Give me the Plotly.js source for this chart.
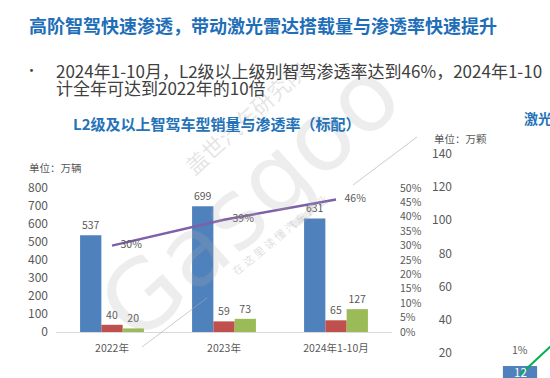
<!DOCTYPE html>
<html><head><meta charset="utf-8">
<script src="https://cdn.plot.ly/plotly-3.0.1.min.js"></script>
<style>html,body{margin:0;padding:0;overflow:hidden;background:#fff}#chart{width:550px;height:400px}</style>
</head><body><div id="chart"></div>
<script>
// ---- data (left chart) ----
const categories = ['2022年', '2023年', '2024年1-10月'];
const l2Sales = [537, 699, 631];
const seriesRed = [40, 59, 65];
const seriesGreen = [20, 73, 127];
const l2Rate = [0.30, 0.39, 0.46];
// ---- data (right chart, only the first category is inside the picture) ----
const lidarCategories = ['2022年', '2023年', '2024年1-10月'];
const lidarVolume = [12, 57, 110];
const lidarRate = [0.01, 0.03, 0.06];
// ---- texts ----
const mainTitle = '高阶智驾快速渗透，带动激光雷达搭载量与渗透率快速提升';
const bulletLine1 = '2024年1-10月，L2级以上级别智驾渗透率达到46%，2024年1-10';
const bulletLine2 = '计全年可达到2022年的10倍';
const leftTitle = 'L2级及以上智驾车型销量与渗透率（标配）';
const leftUnit = '单位：万辆';
const rightTitle = '激光';
const rightUnit = '单位：万颗';

const F = "'Noto Sans CJK SC', 'Noto Sans', sans-serif";
const W = 550, H = 400;
const px = v => v / W;
const py = v => 1 - v / H;
const pct = v => Math.round(v * 100) + '%';
const labelFont = {family: F, size: 10.5, color: '#595959'};
const x3Range = [-1, 0.5];

const traces = [
  {type: 'bar', x: categories, y: l2Sales, xaxis: 'x', yaxis: 'y', marker: {color: '#4F81BD'},
   text: l2Sales.map(String), textposition: 'outside', textfont: labelFont, cliponaxis: false, hoverinfo: 'none'},
  {type: 'bar', x: categories, y: seriesRed, xaxis: 'x', yaxis: 'y', marker: {color: '#C0504D'},
   text: seriesRed.map(String), textposition: 'outside', textfont: labelFont, cliponaxis: false, hoverinfo: 'none'},
  {type: 'bar', x: categories, y: seriesGreen, xaxis: 'x', yaxis: 'y', marker: {color: '#9BBB59'},
   text: seriesGreen.map(String), textposition: 'outside', textfont: labelFont, cliponaxis: false, hoverinfo: 'none'},
  {type: 'scatter', mode: 'lines+markers+text', x: categories, y: l2Rate, xaxis: 'x', yaxis: 'y2',
   line: {color: '#7D60A8', width: 2.5}, marker: {size: 12, opacity: 0, color: '#7D60A8'},
   text: l2Rate.map(pct), textposition: 'middle right', textfont: labelFont, cliponaxis: false, hoverinfo: 'none'},
  {type: 'bar', x: lidarCategories, y: lidarVolume, xaxis: 'x3', yaxis: 'y3', marker: {color: '#4F81BD'},
   hoverinfo: 'none'},
  {type: 'scatter', mode: 'lines', x: lidarCategories, y: lidarRate, xaxis: 'x3', yaxis: 'y4',
   line: {color: '#00B050', width: 2}, hoverinfo: 'none'}
];

const ann = (x, y, text, opts) => Object.assign({xref: 'paper', yref: 'paper', x: x, y: y, text: text,
  showarrow: false, xanchor: 'left', yanchor: 'middle'}, opts);

const annotations = [
  // watermark (drawn first, under the other texts)
  ann(px(250), py(200), 'Gasgoo', {xanchor: 'center', textangle: -42, font: {family: 'DejaVu Sans', size: 96, color: 'rgba(175,175,175,0.22)'}}),
  ann(px(245), py(117), '盖世汽车研究院', {xanchor: 'center', textangle: -42, font: {family: F, size: 22, color: 'rgba(160,160,160,0.28)'}}),
  ann(px(280), py(234), '在 这 里 读 懂 汽 车 产 业', {xanchor: 'center', textangle: -39, font: {family: F, size: 11, color: 'rgba(160,160,160,0.35)'}}),
  ann(px(27), py(25), '<b>' + mainTitle + '</b>', {font: {family: F, size: 18, color: '#1E6EB8'}}),
  ann(px(31), py(69), '•', {xanchor: 'center', font: {family: F, size: 13, color: '#404040'}}),
  ann(px(54), py(70), bulletLine1, {font: {family: F, size: 17, color: '#404040'}}),
  ann(px(54), py(88), bulletLine2, {font: {family: F, size: 17, color: '#404040'}}),
  ann(px(217), py(123), '<b>' + leftTitle + '</b>', {xanchor: 'center', font: {family: F, size: 15, color: '#2472B8'}}),
  ann(px(27), py(167), leftUnit, {font: {family: F, size: 10.5, color: '#595959'}}),
  ann(px(432), py(138), rightUnit, {font: {family: F, size: 10.5, color: '#595959'}}),
  ann(px(522), py(118), '<b>' + rightTitle + '</b>', {font: {family: F, size: 14, color: '#2472B8'}})
];
// labels of the right chart, placed through its own axes (only the categories inside its range)
lidarCategories.forEach((c, i) => {
  if (i > x3Range[1]) return;
  annotations.push({xref: 'x3', yref: 'y4', x: c, y: lidarRate[i], text: pct(lidarRate[i]),
    showarrow: false, yshift: 25, font: {family: F, size: 10.5, color: '#595959'}});
  annotations.push({xref: 'x3', yref: 'y3', x: c, y: lidarVolume[i], text: String(lidarVolume[i]),
    showarrow: false, yshift: -6, font: {family: F, size: 11.5, color: '#ffffff'}});
});

const shapes = [
  {type: 'line', xref: 'paper', yref: 'paper', x0: px(142), y0: py(347), x1: px(207), y1: py(298),
   line: {color: 'rgba(170,170,170,0.6)', width: 1}},
  {type: 'line', xref: 'paper', yref: 'paper', x0: px(353), y0: py(185), x1: px(417), y1: py(137),
   line: {color: 'rgba(170,170,170,0.6)', width: 1}}
];

const layout = {
  width: W, height: H, margin: {l: 0, r: 0, t: 0, b: 0},
  paper_bgcolor: '#ffffff', plot_bgcolor: 'rgba(0,0,0,0)',
  font: {family: F, color: '#595959', size: 11},
  showlegend: false, barmode: 'group', bargap: 0.43, bargroupgap: 0,
  xaxis: {domain: [px(56), px(392)], anchor: 'y', type: 'category', showline: true, linecolor: '#D9D9D9', linewidth: 1,
    ticks: '', tickfont: {size: 10.5, color: '#595959'}, ticklabelstandoff: 6, showgrid: false, zeroline: false, automargin: false},
  yaxis: {domain: [py(332), py(188)], anchor: 'x', range: [0, 800], dtick: 100, showgrid: false, zeroline: false, showline: false,
    ticks: '', tickfont: {size: 12, color: '#595959'}, ticklabelstandoff: 7, automargin: false},
  yaxis2: {overlaying: 'y', anchor: 'x', side: 'right', range: [0, 0.5], dtick: 0.05, tickformat: '.0%',
    showgrid: false, zeroline: false, showline: false, ticks: '', tickfont: {size: 10.5, color: '#595959'},
    ticklabelstandoff: 7, automargin: false},
  xaxis3: {domain: [px(460), 1], anchor: 'y3', type: 'category', range: x3Range, showticklabels: false,
    showline: false, showgrid: false, zeroline: false, ticks: '', automargin: false},
  yaxis3: {domain: [py(386), py(154)], anchor: 'x3', range: [0, 140], dtick: 20, showgrid: false, zeroline: false,
    showline: false, ticks: '', tickfont: {size: 12, color: '#595959'}, ticklabelstandoff: 7, automargin: false},
  yaxis4: {overlaying: 'y3', anchor: 'x3', side: 'right', range: [0.006, 0.089], visible: false},
  annotations: annotations,
  shapes: shapes
};

Plotly.newPlot('chart', traces, layout, {displayModeBar: false, staticPlot: true});
</script>
</body></html>
